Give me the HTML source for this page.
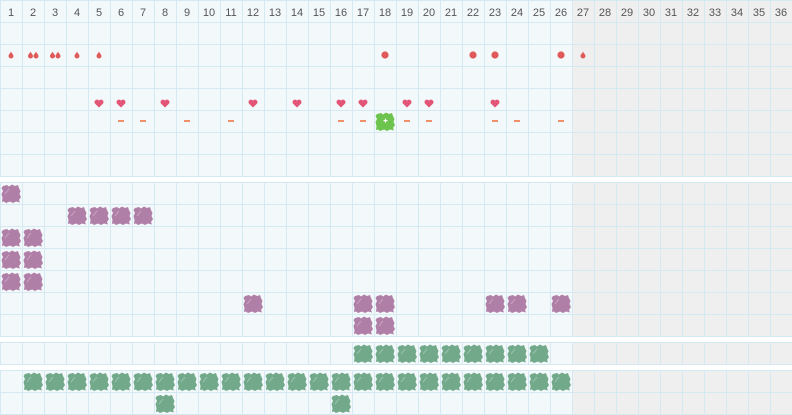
<!DOCTYPE html>
<html><head><meta charset="utf-8"><style>
html,body{margin:0;padding:0;background:#fff;}
svg{display:block;}
</style></head><body>
<svg width="792" height="415" viewBox="0 0 792 415" xmlns="http://www.w3.org/2000/svg">
<defs>
<pattern id="grid" patternUnits="userSpaceOnUse" width="22" height="22">
<rect x="0" y="0" width="22" height="1" fill="#d5e9f3"/>
<rect x="0" y="0" width="1" height="22" fill="#d5e9f3"/>
</pattern>
<path id="blob" d="M3,4 L7,3 L9,4.5 L12,2.5 L15,4 L18,3 L19,6 L20.5,9 L19.5,12 L21,15 L19,18 L20,20.5 L16,19.5 L13,21 L10,19.5 L6,21 L4,19.5 L2,20 L2.5,16 L1.5,12 L3,9 L1.5,6 Z"/>
<g id="bp"><use href="#blob" fill="#b07fa8"/><path d="M5,12 L9,7" stroke="#cfa9c9" stroke-width="0.8"/></g>
<g id="bg"><use href="#blob" fill="#72a98a"/><path d="M5,12 L9,7" stroke="#a3cbb4" stroke-width="0.8"/></g>
</defs>

<!-- Section 1 -->
<g transform="translate(0,0)">
<rect x="0" y="0" width="572" height="177" fill="#f3f8fa"/>
<rect x="572" y="0" width="220" height="177" fill="#efefef"/>
<rect x="0" y="0" width="792" height="177" fill="url(#grid)"/>
</g>
<!-- Section 2 -->
<g transform="translate(0,182)">
<rect x="0" y="0" width="572" height="155" fill="#f3f8fa"/>
<rect x="572" y="0" width="220" height="155" fill="#efefef"/>
<rect x="0" y="0" width="792" height="155" fill="url(#grid)"/>
</g>
<!-- Section 3 -->
<g transform="translate(0,342)">
<rect x="0" y="0" width="572" height="23" fill="#f3f8fa"/>
<rect x="572" y="0" width="220" height="23" fill="#efefef"/>
<rect x="0" y="0" width="792" height="23" fill="url(#grid)"/>
</g>
<!-- Section 4 -->
<g transform="translate(0,370)">
<rect x="0" y="0" width="572" height="45" fill="#f3f8fa"/>
<rect x="572" y="0" width="220" height="45" fill="#efefef"/>
<rect x="0" y="0" width="792" height="45" fill="url(#grid)"/>
</g>

<!-- Header numbers -->
<g font-family="Liberation Sans, sans-serif" font-size="11" fill="#555" text-anchor="middle">
<text x="11" y="16">1</text><text x="33" y="16">2</text><text x="55" y="16">3</text><text x="77" y="16">4</text>
<text x="99" y="16">5</text><text x="121" y="16">6</text><text x="143" y="16">7</text><text x="165" y="16">8</text>
<text x="187" y="16">9</text><text x="209" y="16">10</text><text x="231" y="16">11</text><text x="253" y="16">12</text>
<text x="275" y="16">13</text><text x="297" y="16">14</text><text x="319" y="16">15</text><text x="341" y="16">16</text>
<text x="363" y="16">17</text><text x="385" y="16">18</text><text x="407" y="16">19</text><text x="429" y="16">20</text>
<text x="451" y="16">21</text><text x="473" y="16">22</text><text x="495" y="16">23</text><text x="517" y="16">24</text>
<text x="539" y="16">25</text><text x="561" y="16">26</text><text x="583" y="16">27</text><text x="605" y="16">28</text>
<text x="627" y="16">29</text><text x="649" y="16">30</text><text x="671" y="16">31</text><text x="693" y="16">32</text>
<text x="715" y="16">33</text><text x="737" y="16">34</text><text x="759" y="16">35</text><text x="781" y="16">36</text>
</g>

<!-- Drops -->
<g fill="#e05a5a">
<path d="M11,51.5 C11.5,53 13.5,54.5 13.5,56 A2.5,2.5 0 0 1 8.5,56 C8.5,54.5 10.5,53 11,51.5Z"/>
<path d="M30.5,51.5 C31,53 33,54.5 33,56 A2.5,2.5 0 0 1 28,56 C28,54.5 30,53 30.5,51.5Z"/>
<path d="M36,51.5 C36.5,53 38.5,54.5 38.5,56 A2.5,2.5 0 0 1 33.5,56 C33.5,54.5 35.5,53 36,51.5Z"/>
<path d="M52.5,51.5 C53,53 55,54.5 55,56 A2.5,2.5 0 0 1 50,56 C50,54.5 52,53 52.5,51.5Z"/>
<path d="M58,51.5 C58.5,53 60.5,54.5 60.5,56 A2.5,2.5 0 0 1 55.5,56 C55.5,54.5 57.5,53 58,51.5Z"/>
<path d="M77,51.5 C77.5,53 79.5,54.5 79.5,56 A2.5,2.5 0 0 1 74.5,56 C74.5,54.5 76.5,53 77,51.5Z"/>
<path d="M99,51.5 C99.5,53 101.5,54.5 101.5,56 A2.5,2.5 0 0 1 96.5,56 C96.5,54.5 98.5,53 99,51.5Z"/>
<path d="M583,51.5 C583.5,53 585.5,54.5 585.5,56 A2.5,2.5 0 0 1 580.5,56 C580.5,54.5 582.5,53 583,51.5Z"/>
<circle cx="385" cy="55" r="3.6"/>
<circle cx="473" cy="55" r="3.6"/>
<circle cx="495" cy="55" r="3.6"/>
<circle cx="561" cy="55" r="3.6"/>
</g>

<!-- Hearts -->
<g fill="#e25577">
<path d="M99,107.5 L95,103.6 A2.2,2.2 0 0 1 99,100.6 A2.2,2.2 0 0 1 103,103.6 Z"/>
<path d="M121,107.5 L117,103.6 A2.2,2.2 0 0 1 121,100.6 A2.2,2.2 0 0 1 125,103.6 Z"/>
<path d="M165,107.5 L161,103.6 A2.2,2.2 0 0 1 165,100.6 A2.2,2.2 0 0 1 169,103.6 Z"/>
<path d="M253,107.5 L249,103.6 A2.2,2.2 0 0 1 253,100.6 A2.2,2.2 0 0 1 257,103.6 Z"/>
<path d="M297,107.5 L293,103.6 A2.2,2.2 0 0 1 297,100.6 A2.2,2.2 0 0 1 301,103.6 Z"/>
<path d="M341,107.5 L337,103.6 A2.2,2.2 0 0 1 341,100.6 A2.2,2.2 0 0 1 345,103.6 Z"/>
<path d="M363,107.5 L359,103.6 A2.2,2.2 0 0 1 363,100.6 A2.2,2.2 0 0 1 367,103.6 Z"/>
<path d="M407,107.5 L403,103.6 A2.2,2.2 0 0 1 407,100.6 A2.2,2.2 0 0 1 411,103.6 Z"/>
<path d="M429,107.5 L425,103.6 A2.2,2.2 0 0 1 429,100.6 A2.2,2.2 0 0 1 433,103.6 Z"/>
<path d="M495,107.5 L491,103.6 A2.2,2.2 0 0 1 495,100.6 A2.2,2.2 0 0 1 499,103.6 Z"/>
</g>

<!-- Dashes -->
<g fill="#f0916a">
<rect x="118" y="120" width="6" height="2"/>
<rect x="140" y="120" width="6" height="2"/>
<rect x="184" y="120" width="6" height="2"/>
<rect x="228" y="120" width="6" height="2"/>
<rect x="338" y="120" width="6" height="2"/>
<rect x="360" y="120" width="6" height="2"/>
<rect x="404" y="120" width="6" height="2"/>
<rect x="426" y="120" width="6" height="2"/>
<rect x="492" y="120" width="6" height="2"/>
<rect x="514" y="120" width="6" height="2"/>
<rect x="558" y="120" width="6" height="2"/>
</g>

<!-- Green plus blob -->
<g transform="translate(374,110)">
<use href="#blob" fill="#6cc44e"/>
<rect x="9.5" y="10" width="4" height="1.2" fill="#fff"/>
<rect x="10.9" y="8.6" width="1.2" height="4" fill="#fff"/>
</g>

<!-- Section 2 purple blobs -->
<use href="#bp" x="0" y="182"/>
<use href="#bp" x="66" y="204"/><use href="#bp" x="88" y="204"/><use href="#bp" x="110" y="204"/><use href="#bp" x="132" y="204"/>
<use href="#bp" x="0" y="226"/><use href="#bp" x="22" y="226"/>
<use href="#bp" x="0" y="248"/><use href="#bp" x="22" y="248"/>
<use href="#bp" x="0" y="270"/><use href="#bp" x="22" y="270"/>
<use href="#bp" x="242" y="292"/><use href="#bp" x="352" y="292"/><use href="#bp" x="374" y="292"/>
<use href="#bp" x="484" y="292"/><use href="#bp" x="506" y="292"/><use href="#bp" x="550" y="292"/>
<use href="#bp" x="352" y="314"/><use href="#bp" x="374" y="314"/>

<!-- Section 3 green blobs -->
<use href="#bg" x="352" y="342"/><use href="#bg" x="374" y="342"/><use href="#bg" x="396" y="342"/>
<use href="#bg" x="418" y="342"/><use href="#bg" x="440" y="342"/><use href="#bg" x="462" y="342"/>
<use href="#bg" x="484" y="342"/><use href="#bg" x="506" y="342"/><use href="#bg" x="528" y="342"/>

<!-- Section 4 green blobs -->
<use href="#bg" x="22" y="370"/><use href="#bg" x="44" y="370"/><use href="#bg" x="66" y="370"/>
<use href="#bg" x="88" y="370"/><use href="#bg" x="110" y="370"/><use href="#bg" x="132" y="370"/>
<use href="#bg" x="154" y="370"/><use href="#bg" x="176" y="370"/><use href="#bg" x="198" y="370"/>
<use href="#bg" x="220" y="370"/><use href="#bg" x="242" y="370"/><use href="#bg" x="264" y="370"/>
<use href="#bg" x="286" y="370"/><use href="#bg" x="308" y="370"/><use href="#bg" x="330" y="370"/>
<use href="#bg" x="352" y="370"/><use href="#bg" x="374" y="370"/><use href="#bg" x="396" y="370"/>
<use href="#bg" x="418" y="370"/><use href="#bg" x="440" y="370"/><use href="#bg" x="462" y="370"/>
<use href="#bg" x="484" y="370"/><use href="#bg" x="506" y="370"/><use href="#bg" x="528" y="370"/>
<use href="#bg" x="550" y="370"/>
<use href="#bg" x="154" y="392"/><use href="#bg" x="330" y="392"/>
</svg>
</body></html>
